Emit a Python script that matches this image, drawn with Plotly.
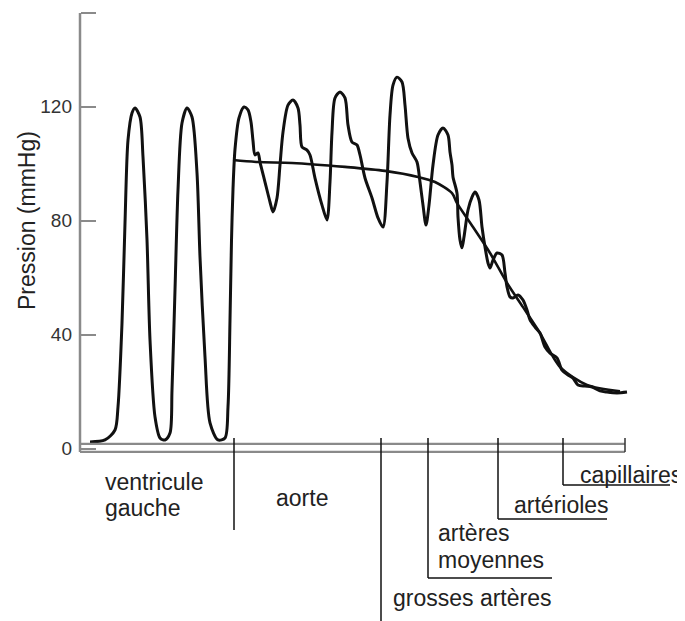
import plotly.graph_objects as go

# ---- data (x: arbitrary distance units along the circulation, y: mmHg) ----
pulse_x = [10, 25, 35, 38, 42, 45, 48, 52, 55, 60, 63, 67, 70, 75, 80, 85, 90, 92, 95, 98,
           102, 107, 112, 117, 120, 125, 130, 138, 145, 148, 150, 151.5, 153, 155, 159, 164,
           168, 171, 173, 175, 178, 180, 185, 190, 193, 197, 200, 203, 208, 213, 218, 220,
           222, 227, 230, 235, 242, 247, 250, 252, 255, 260, 265, 268, 272, 277, 280, 285,
           292, 298, 303, 307, 310, 313, 317, 322, 325, 328, 332, 337, 340, 343, 346, 349,
           353, 358, 363, 368, 370, 372, 373, 377, 378, 380, 382, 384, 388, 392, 395, 399,
           402, 405, 408, 410, 413, 417, 422, 425, 427, 430, 433, 438, 443, 447, 450, 455,
           460, 465, 470, 477, 482, 488, 493, 498, 505, 512, 520, 527, 537, 547]
pulse_p = [2.3, 3.0, 6.5, 14.6, 44.0, 79.1, 108.2, 117.7, 119.5, 116.3, 102.3, 73.2, 38.1,
           11.1, 3.7, 3.0, 5.4, 20.5, 55.6, 90.7, 114.2, 119.5, 116.3, 96.7, 67.2, 32.1, 9.0,
           3.0, 3.7, 14.6, 45.0, 73.0, 91.0, 105.0, 116.0, 119.8, 118.8, 114.6, 108.0, 103.0,
           103.7, 100.5, 93.5, 86.5, 83.0, 87.9, 99.5, 111.0, 120.5, 122.3, 119.5, 113.5,
           105.8, 104.7, 103.0, 94.9, 85.4, 80.2, 93.5, 111.0, 123.0, 125.1, 123.0, 113.5,
           107.5, 106.5, 103.0, 94.9, 87.9, 80.9, 77.7, 93.5, 117.0, 127.5, 130.3, 128.6,
           120.5, 108.9, 103.7, 100.5, 93.5, 85.4, 78.4, 85.4, 99.5, 110.0, 112.5, 110.0,
           104.0, 99.5, 95.3, 89.6, 81.2, 73.2, 70.4, 74.2, 83.7, 88.2, 90.0, 87.2, 77.7,
           70.7, 65.1, 63.3, 66.1, 68.6, 67.9, 61.6, 56.7, 53.2, 52.8, 53.9, 52.1, 48.6,
           45.1, 42.6, 40.5, 35.6, 33.5, 31.8, 27.5, 25.8, 24.7, 22.3, 21.9, 21.6, 20.2,
           19.8, 19.5, 19.8]

mean_x = [153, 178, 212, 265, 305, 338, 355, 372, 377, 393, 410, 427, 443, 460, 480, 507, 540]
mean_p = [101.2, 100.5, 100.2, 98.8, 97.4, 95.3, 93.5, 89.6, 86.1, 77.7, 68.6, 58.1, 49.6,
          40.5, 28.6, 22.3, 20.1]

y_ticks = [0, 40, 80, 120, 152.8]
y_tick_labels = ["0", "40", "80", "120", ""]

# boundaries between vessel segments (same distance units)
seg_bounds = [154, 301, 348, 418, 483]
axis_end = 545

fig = go.Figure()
fig.add_trace(go.Scatter(x=pulse_x, y=pulse_p, mode="lines",
                         line=dict(color="#111", width=3, shape="spline", smoothing=0.8),
                         hoverinfo="skip", showlegend=False))
fig.add_trace(go.Scatter(x=mean_x, y=mean_p, mode="lines",
                         line=dict(color="#111", width=2.6, shape="spline", smoothing=0.8),
                         hoverinfo="skip", showlegend=False))

shapes = []
gray = "#8a8a8a"
# y axis line
shapes.append(dict(type="line", x0=0, x1=0, y0=-1.2, y1=152.8, xref="x", yref="y",
                   line=dict(color=gray, width=2.5)))
# double x axis line
for yy in (1.6, -1.2):
    shapes.append(dict(type="line", x0=0, x1=axis_end, y0=yy, y1=yy, xref="x", yref="y",
                       line=dict(color=gray, width=2.2)))
shapes.append(dict(type="line", x0=axis_end, x1=axis_end, y0=-1.2, y1=3.7, xref="x", yref="y",
                   line=dict(color="#333", width=1.5)))

# segment divider lines (vertical drop, optional horizontal underline)
drops = [-28.6, -60.6, -45.4, -24.7, -12.8]
unders = [None, None, 472, 527, 590]
for b, d, u in zip(seg_bounds, drops, unders):
    shapes.append(dict(type="line", x0=b, x1=b, y0=3.7, y1=d, xref="x", yref="y",
                       line=dict(color="#111", width=1.5)))
    if u is not None:
        shapes.append(dict(type="line", x0=b, x1=u, y0=d, y1=d, xref="x", yref="y",
                           line=dict(color="#111", width=1.5)))

font_lbl = dict(family="Liberation Sans, Arial, sans-serif", size=23, color="#222")
ann = [
    ("ventricule", 23, -11.75, "left"),
    ("gauche", 23, -20.9, "left"),
    ("aorte", 222, -17.4, "center"),
    ("capillaires", 498, -9.3, "left"),
    ("artérioles", 432, -19.8, "left"),
    ("artères", 356, -29.6, "left"),
    ("moyennes", 356, -39.1, "left"),
    ("grosses artères", 311, -52.5, "left"),
]
annotations = [dict(text=t, x=x, y=y, xref="x", yref="y", xanchor=a, yanchor="middle",
                    showarrow=False, font=font_lbl) for t, x, y, a in ann]

# the page adds an 8px body margin, so the figure is 8px smaller on each side
W, H, OFF = 677, 613, 8
annotations.append(dict(text="Pression (mmHg)", textangle=-90,
                        x=(27 - 70) / 615, y=(621 - 221) / H,
                        xref="paper", yref="paper", xanchor="center", yanchor="middle",
                        showarrow=False, font=font_lbl))

fig.update_layout(
    width=W, height=H,
    margin=dict(l=70 - OFF, r=0, t=0, b=0),
    paper_bgcolor="white", plot_bgcolor="white",
    xaxis=dict(range=[-10, 605], visible=False, fixedrange=True),
    yaxis=dict(range=[(448.5 - 621) / 2.85, (448.5 - OFF) / 2.85], anchor="free", position=10 / 615,
               showgrid=False, zeroline=False, showline=False,
               ticks="inside", ticklen=15, tickwidth=2, tickcolor=gray,
               tickvals=y_ticks, ticktext=y_tick_labels, ticklabelstandoff=8,
               tickfont=dict(family="Liberation Sans, Arial, sans-serif", size=19, color="#333")),
    shapes=shapes,
    annotations=annotations,
    showlegend=False,
)

fig.write_html("out.html")
